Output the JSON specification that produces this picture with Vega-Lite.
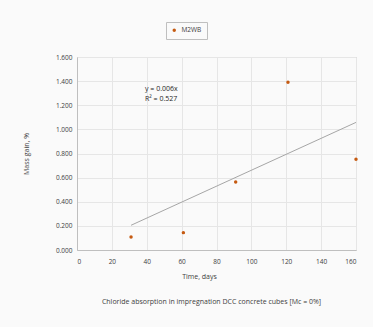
{
  "$schema": "https://vega.github.io/schema/vega-lite/v6.json",
  "width": 279,
  "height": 193,
  "autosize": "none",
  "padding": {"left": 77, "top": 57, "right": 17, "bottom": 77},
  "background": "#fafafa",
  "title": {
    "text": "Chloride absorption in impregnation  DCC concrete cubes [Mc = 0%]",
    "orient": "bottom",
    "anchor": "middle",
    "fontSize": 7,
    "fontWeight": "normal",
    "font": "Open Sans",
    "color": "#404040",
    "offset": 18,
    "dx": -5
  },
  "config": {
    "font": "Open Sans",
    "view": {"stroke": "#bfbfbf", "strokeWidth": 1},
    "axis": {
      "labelFontSize": 6.5,
      "labelColor": "#404040",
      "titleFontSize": 7,
      "titleFontWeight": "normal",
      "titleColor": "#404040",
      "gridColor": "#e6e6e6",
      "domainColor": "#bfbfbf",
      "ticks": false
    }
  },
  "encoding": {
    "x": {"field": "day", "type": "quantitative", "scale": {"domain": [0, 160], "nice": false},
      "axis": {"tickCount": 8, "labelOverlap": false, "labelSeparation": 0, "title": "Time, days", "labelPadding": 8, "titlePadding": 8, "titleX": 122, "titleAlign": "center"}},
    "y": {"field": "gain", "type": "quantitative", "scale": {"domain": [0, 1.6], "nice": false},
      "axis": {"tickCount": 8, "labelOverlap": false, "labelSeparation": 0, "format": ".3f", "title": "Mass gain, %", "labelPadding": 5, "titlePadding": 26}}
  },
  "layer": [
    {
      "data": {"values": [
        {"day": 31, "gain": 0.205},
        {"day": 160, "gain": 1.058}
      ]},
      "mark": {"type": "line", "color": "#a6a6a6", "strokeWidth": 1}
    },
    {
      "data": {"values": [
        {"day": 31, "gain": 0.107, "series": "M2WB"},
        {"day": 61, "gain": 0.144, "series": "M2WB"},
        {"day": 91, "gain": 0.563, "series": "M2WB"},
        {"day": 121, "gain": 1.39, "series": "M2WB"},
        {"day": 160, "gain": 0.753, "series": "M2WB"}
      ]},
      "mark": {"type": "point", "filled": true, "size": 12, "opacity": 1, "shape": "circle"},
      "encoding": {
        "color": {"field": "series", "type": "nominal", "scale": {"range": ["#c55a11"]},
          "legend": {"title": null, "orient": "none", "legendX": 89, "legendY": -35, "direction": "horizontal",
            "strokeColor": "#bfbfbf", "padding": 5, "labelFontSize": 6.5, "labelColor": "#404040", "symbolSize": 12, "fillColor": "#fafafa"}}
      }
    },
    {
      "data": {"values": [
        {"day": 39, "gain": 1.338, "label": "y = 0.006x"},
        {"day": 39, "gain": 1.255, "label": "R² = 0.527"}
      ]},
      "mark": {"type": "text", "align": "left", "baseline": "middle", "fontSize": 7, "color": "#262626"},
      "encoding": {
        "text": {"field": "label"}
      }
    }
  ]
}
